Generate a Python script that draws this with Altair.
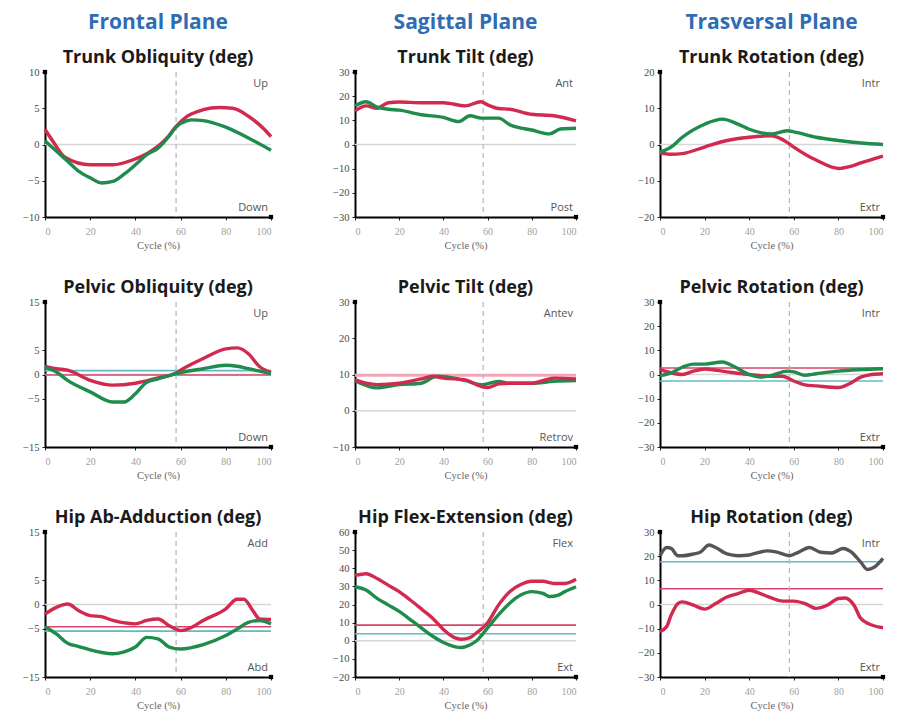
import altair as alt
import pandas as pd

# ---------------- data ----------------
X_TICKS = [0, 20, 40, 60, 80, 100]
CUT = 58  # dashed vertical line (toe off, % cycle)

# Trunk Obliquity
p1_red_x = [0, 4, 9, 20, 30, 39, 46, 54, 58, 63, 70, 77, 83, 90, 97, 100]
p1_red_y = [2.1, 0.2, -1.8, -2.8, -2.8, -2.1, -1.1, 0.9, 2.5, 3.9, 4.8, 5.1, 5.0, 3.9, 2.1, 1.1]
p1_grn_x = [0, 5, 10, 15, 20, 25, 30, 35, 40, 45, 50, 55, 58, 63, 65, 70, 80, 90, 100]
p1_grn_y = [0.5, -0.9, -2.3, -3.7, -4.6, -5.3, -5.1, -4.1, -2.8, -1.4, -0.5, 1.2, 2.4, 3.3, 3.4, 3.3, 2.4, 0.9, -0.8]

# Trunk Tilt
p2_red_x = [0, 5, 10, 15, 20, 30, 40, 50, 57, 60, 65, 70, 80, 90, 100]
p2_red_y = [13.9, 16.0, 15.0, 17.3, 17.6, 17.3, 17.3, 16.0, 17.7, 16.4, 14.9, 14.6, 12.5, 11.9, 9.8]
p2_grn_x = [0, 5, 10, 15, 20, 30, 40, 47, 52, 57, 65, 70, 80, 88, 93, 100]
p2_grn_y = [16.0, 17.7, 15.5, 14.6, 14.2, 12.3, 11.2, 9.5, 11.9, 10.9, 10.9, 8.2, 6.0, 4.4, 6.4, 6.7]

# Trunk Rotation
p3_grn_x = [0, 5, 10, 20, 28, 35, 40, 50, 57, 60, 70, 80, 90, 100]
p3_grn_y = [-2.1, -0.7, 2.0, 5.6, 7.0, 5.6, 4.2, 2.9, 3.8, 3.5, 2.0, 1.1, 0.4, 0.0]
p3_red_x = [0, 5, 10, 20, 30, 40, 50, 57, 60, 70, 80, 85, 90, 100]
p3_red_y = [-2.3, -2.7, -2.5, -0.7, 1.1, 2.0, 2.4, 0.6, -0.7, -4.3, -6.6, -6.1, -5.1, -3.2]

# Pelvic Obliquity
p4_red_x = [0, 5, 10, 20, 30, 40, 50, 58, 60, 70, 80, 85, 90, 95, 100]
p4_red_y = [1.7, 1.2, 0.9, -1.2, -2.2, -1.8, -0.7, 0.3, 0.9, 3.3, 5.3, 5.5, 4.3, 1.6, 0.5]
p4_grn_x = [0, 5, 10, 20, 30, 35, 40, 45, 50, 58, 70, 80, 85, 90, 100]
p4_grn_y = [1.5, 0.5, -1.2, -3.6, -5.7, -5.7, -4.0, -1.6, -0.9, 0.2, 1.2, 1.9, 1.7, 1.2, 0.2]
p4_refs = [("#5fbcc6", 0.8), ("#d9446a", -0.1)]

# Pelvic Tilt
p5_red_x = [0, 5, 10, 20, 30, 35, 40, 50, 57, 60, 65, 70, 80, 90, 100]
p5_red_y = [8.5, 7.6, 7.2, 7.6, 8.8, 9.5, 9.0, 8.5, 6.7, 6.4, 7.4, 7.6, 7.6, 9.0, 8.8]
p5_grn_x = [0, 10, 20, 30, 37, 45, 50, 57, 65, 70, 80, 90, 100]
p5_grn_y = [8.3, 6.3, 7.2, 7.6, 9.5, 9.0, 8.3, 7.2, 8.1, 7.6, 7.6, 8.1, 8.3]
p5_refs = [("#f3a6b7", 9.8)]

# Pelvic Rotation
p6_grn_x = [0, 5, 10, 15, 20, 28, 33, 40, 45, 50, 57, 60, 65, 70, 80, 90, 100]
p6_grn_y = [-0.5, 0.7, 3.0, 4.3, 4.3, 5.2, 3.4, 0.0, -1.1, -0.4, 1.4, 1.1, -0.3, 0.3, 1.4, 2.0, 2.4]
p6_red_x = [0, 5, 10, 15, 20, 30, 40, 50, 55, 60, 65, 70, 80, 85, 90, 95, 100]
p6_red_y = [2.0, 0.7, 0.0, 1.4, 2.3, 1.1, 0.0, -0.7, -0.7, -2.7, -4.3, -4.7, -5.4, -3.8, -1.1, 0.0, 0.3]
p6_refs = [("#d9446a", 2.7), ("#5fbcc6", -2.7)]

# Hip Ab-Adduction
p7_red_x = [0, 5, 10, 15, 20, 25, 30, 40, 45, 50, 55, 60, 65, 70, 80, 85, 88, 92, 95, 100]
p7_red_y = [-2.0, -0.6, 0.1, -1.3, -2.3, -2.5, -3.3, -4.0, -3.3, -3.0, -4.4, -5.4, -4.7, -3.3, -0.9, 1.1, 1.1, -1.3, -3.0, -3.1]
p7_grn_x = [0, 5, 10, 15, 20, 30, 35, 40, 45, 50, 55, 60, 70, 80, 85, 90, 95, 100]
p7_grn_y = [-4.6, -6.1, -8.0, -8.7, -9.4, -10.2, -9.8, -8.8, -6.8, -7.1, -8.8, -9.2, -8.3, -6.4, -5.1, -3.7, -3.3, -4.0]
p7_refs = [("#d9446a", -4.6), ("#5fbcc6", -5.5)]

# Hip Flex-Extension
p8_red_x = [0, 5, 10, 15, 20, 25, 30, 35, 40, 45, 48, 52, 55, 60, 65, 70, 75, 80, 85, 90, 95, 100]
p8_red_y = [36.1, 37.0, 34.3, 30.7, 27.1, 22.5, 17.6, 12.6, 6.2, 1.7, 0.8, 1.7, 4.4, 9.9, 19.8, 27.1, 31.0, 32.8, 32.8, 31.6, 31.6, 33.9]
p8_grn_x = [0, 5, 10, 15, 20, 25, 30, 35, 40, 45, 48, 52, 55, 60, 65, 70, 75, 80, 85, 88, 92, 95, 100]
p8_grn_y = [29.8, 28.0, 23.4, 19.8, 16.2, 11.7, 7.1, 2.6, -1.0, -3.2, -3.7, -2.3, 0.0, 7.1, 14.4, 20.7, 25.2, 27.1, 26.2, 24.4, 25.2, 27.1, 29.8]
p8_refs = [("#d9446a", 8.6), ("#5fbcc6", 3.9)]

# Hip Rotation
p9_gry_x = [0, 3, 5, 8, 10, 15, 18, 22, 25, 30, 35, 40, 48, 52, 58, 62, 67, 72, 77, 82, 86, 90, 93, 96, 100]
p9_gry_y = [20.2, 23.6, 23.2, 20.2, 20.2, 20.9, 21.6, 24.6, 23.6, 20.9, 20.2, 20.5, 22.2, 21.8, 20.2, 21.6, 23.6, 21.6, 21.3, 23.2, 21.6, 17.5, 14.5, 15.4, 19.1]
p9_red_x = [0, 3, 5, 8, 10, 15, 20, 25, 30, 35, 40, 45, 50, 55, 60, 65, 70, 75, 80, 83, 87, 90, 95, 100]
p9_red_y = [-11.2, -9.1, -4.4, 0.4, 1.1, -0.3, -1.9, 0.4, 3.1, 4.5, 5.9, 4.5, 2.7, 1.4, 1.4, 0.4, -1.6, -0.3, 2.5, 2.7, -0.3, -5.7, -8.5, -9.6]
p9_refs = [("#5fbcc6", 17.7), ("#d9446a", 6.5)]

SERIES_DOMAIN = ["R", "L", "G"]
SERIES_RANGE = ["#d2294f", "#1f8b4c", "#555555"]

TITLE_FONT = "Open Sans"
BLUE = "#2e6db5"
PANEL_H = 145


def make_panel(title, plane, ymin, ymax, yticks, series, refs, top_lbl, bot_lbl, w):
    rows = []
    for key, xs, ys in series:
        for a, b in zip(xs, ys):
            rows.append({"x": a, "y": b, "s": key})
    df = pd.DataFrame(rows)

    xenc = alt.X("x:Q", scale=alt.Scale(domain=[0, 100], nice=False, zero=False),
                 axis=alt.Axis(values=X_TICKS, title="Cycle (%)"))
    yenc = alt.Y("y:Q", scale=alt.Scale(domain=[ymin, ymax], nice=False, zero=False),
                 axis=alt.Axis(values=yticks, title=None))

    layers = []
    layers.append(alt.Chart(pd.DataFrame({"y": [0]})).mark_rule(color="#d6d6d6", strokeWidth=1.3).encode(y=yenc))
    for col, val in refs:
        sw = 3 if col == "#f3a6b7" else 1.6
        layers.append(alt.Chart(pd.DataFrame({"y": [val]})).mark_rule(color=col, strokeWidth=sw).encode(y=yenc))
    layers.append(alt.Chart(pd.DataFrame({"x": [CUT]})).mark_rule(color="#a9b9c2", strokeWidth=1.2, strokeDash=[5, 4]).encode(x=xenc))
    layers.append(alt.Chart(df).mark_line(strokeWidth=3.4, interpolate="monotone").encode(
        x=xenc, y=yenc,
        color=alt.Color("s:N", scale=alt.Scale(domain=SERIES_DOMAIN, range=SERIES_RANGE), legend=None)))
    layers.append(alt.Chart(pd.DataFrame({"x": [100], "y": [ymax], "t": [top_lbl]})).mark_text(
        align="right", baseline="middle", dx=-3, dy=12, font="Open Sans", fontSize=11, color="#555").encode(
        x=xenc, y=yenc, text="t:N"))
    layers.append(alt.Chart(pd.DataFrame({"x": [100], "y": [ymin], "t": [bot_lbl]})).mark_text(
        align="right", baseline="middle", dx=-3, dy=-9, font="Open Sans", fontSize=11, color="#555").encode(
        x=xenc, y=yenc, text="t:N"))
    layers.append(alt.Chart(pd.DataFrame({"x": [0, 100], "y": [ymax, ymin]})).mark_square(
        size=18, color="black", opacity=1).encode(x=xenc, y=yenc))

    if plane:
        t = alt.TitleParams(text=plane, subtitle=title, font=TITLE_FONT, fontSize=21, fontWeight="bold",
                            color=BLUE, subtitleFont=TITLE_FONT, subtitleFontSize=18,
                            subtitleFontWeight="bold", subtitleColor="#1a1a1a", subtitlePadding=16,
                            frame="group", anchor="middle", offset=0)
    else:
        t = alt.TitleParams(text=title, font=TITLE_FONT, fontSize=18, fontWeight="bold",
                            color="#1a1a1a", frame="group", anchor="middle", offset=0)
    return alt.layer(*layers).properties(width=w, height=PANEL_H, title=t)


W = [226, 221, 223]
panels = [
    make_panel("Trunk Obliquity (deg)", "Frontal Plane", -10, 10, [-10, -5, 0, 5, 10],
               [("R", p1_red_x, p1_red_y), ("L", p1_grn_x, p1_grn_y)], [], "Up", "Down", W[0]),
    make_panel("Trunk Tilt (deg)", "Sagittal Plane", -30, 30, [-30, -20, -10, 0, 10, 20, 30],
               [("R", p2_red_x, p2_red_y), ("L", p2_grn_x, p2_grn_y)], [], "Ant", "Post", W[1]),
    make_panel("Trunk Rotation (deg)", "Trasversal Plane", -20, 20, [-20, -10, 0, 10, 20],
               [("R", p3_red_x, p3_red_y), ("L", p3_grn_x, p3_grn_y)], [], "Intr", "Extr", W[2]),
    make_panel("Pelvic Obliquity (deg)", None, -15, 15, [-15, -5, 0, 5, 15],
               [("R", p4_red_x, p4_red_y), ("L", p4_grn_x, p4_grn_y)], p4_refs, "Up", "Down", W[0]),
    make_panel("Pelvic Tilt (deg)", None, -10, 30, [-10, 0, 10, 20, 30],
               [("L", p5_grn_x, p5_grn_y), ("R", p5_red_x, p5_red_y)], p5_refs, "Antev", "Retrov", W[1]),
    make_panel("Pelvic Rotation (deg)", None, -30, 30, [-30, -20, -10, 0, 10, 20, 30],
               [("R", p6_red_x, p6_red_y), ("L", p6_grn_x, p6_grn_y)], p6_refs, "Intr", "Extr", W[2]),
    make_panel("Hip Ab-Adduction (deg)", None, -15, 15, [-15, -5, 0, 5, 15],
               [("R", p7_red_x, p7_red_y), ("L", p7_grn_x, p7_grn_y)], p7_refs, "Add", "Abd", W[0]),
    make_panel("Hip Flex-Extension (deg)", None, -20, 60, [-20, -10, 0, 10, 20, 30, 40, 50, 60],
               [("R", p8_red_x, p8_red_y), ("L", p8_grn_x, p8_grn_y)], p8_refs, "Flex", "Ext", W[1]),
    make_panel("Hip Rotation (deg)", None, -30, 30, [-30, -20, -10, 0, 10, 20, 30],
               [("G", p9_gry_x, p9_gry_y), ("R", p9_red_x, p9_red_y)], p9_refs, "Intr", "Extr", W[2]),
]

chart = alt.concat(*panels, columns=3, spacing={"row": 85, "column": 84}, bounds="flush", align="each").properties(
    padding={"left": 14, "top": 4, "right": 5, "bottom": 5},
    background="white",
).configure_view(stroke=None).configure_axis(
    grid=False, domainColor="black", domainWidth=2, tickColor="#222", tickSize=3, tickWidth=1,
    labelFont="Liberation Serif", labelFontSize=10.5, titleFont="Liberation Serif", titleFontSize=10.5,
    titleFontWeight="normal", titleColor="#666", labelPadding=3,
).configure_axisX(labelColor="#a0a0a0", labelFontSize=10, titlePadding=4, labelPadding=6).configure_axisY(labelColor="#4a4a4a")

chart.save("out.html", embed_options={"renderer": "svg", "actions": False})
